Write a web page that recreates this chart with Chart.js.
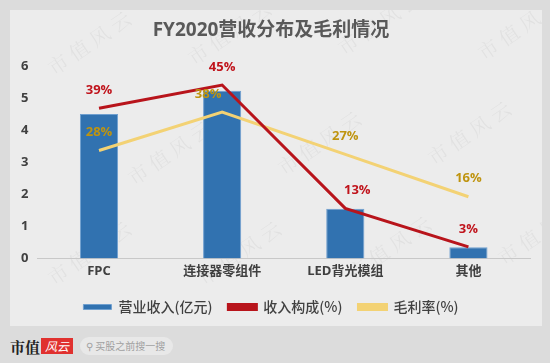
<!DOCTYPE html>
<html>
<head>
  <meta charset="utf-8">
  <title>FY2020营收分布及毛利情况</title>
  <script src="https://cdn.jsdelivr.net/npm/chart.js@4.4.1/dist/chart.umd.min.js"></script>
  <style>
    html, body { margin: 0; padding: 0; }
    body { width: 550px; height: 363px; background: #dcdcdc; position: relative; overflow: hidden;
           font-family: "Noto Sans CJK SC", "Noto Sans", sans-serif; }
    #card { position: absolute; left: 10px; top: 10px; width: 532px; height: 316px; background: #ececec; }
    #foot { position: absolute; left: 10px; top: 334px; height: 24px; display: flex; align-items: center; }
    .logo1 { font-family: "Noto Serif CJK SC", "Noto Sans CJK SC", serif; font-weight: bold; font-size: 15px; color: #222; }
    .logo2 { background: #e0312f; color: #fff; font-size: 12px; font-style: italic; padding: 0 4px; height: 16px; line-height: 16px; margin-left: 1px; }
    .search { margin-left: 7px; background: #e8e8e8; border-radius: 10px; height: 18px; line-height: 18px; padding: 0 8px 0 6px; font-size: 10px; color: #a0a0a0; }
  </style>
</head>
<body>
  <div id="card"><canvas id="myChart" width="532" height="316"></canvas></div>
  <div id="foot">
    <span class="logo1">市值</span><span class="logo2">风云</span>
    <span class="search">&#9906; 买股之前搜一搜</span>
  </div>

  <script>
    var categories = ['FPC', '连接器零组件', 'LED背光模组', '其他'];
    var revenue = [4.5, 5.22, 1.55, 0.35];      // 营业收入(亿元)
    var revenueShare = [39, 45, 13, 3];         // 收入构成(%)
    var grossMargin = [28, 38, 27, 16];         // 毛利率(%)
    var yTicks = [0, 1, 2, 3, 4, 5, 6];

    // 数据标签（折线点上方的百分比）
    var labelPlugin = {
      id: 'pctLabels',
      afterDatasetsDraw: function(chart) {
        var ctx = chart.ctx;
        ctx.save();
        ctx.font = 'bold 13px "Open Sans", "Noto Sans CJK SC", sans-serif';
        ctx.textAlign = 'center';
        ctx.textBaseline = 'middle';
        chart.data.datasets.forEach(function(ds, i) {
          if (!ds.labelColor) return;
          var meta = chart.getDatasetMeta(i);
          meta.data.forEach(function(pt, j) {
            var dx = ds.labelDx ? ds.labelDx[j] : 0;
            ctx.fillStyle = ds.labelColor;
            ctx.fillText(ds.data[j] + '%', pt.x + dx, pt.y - 18);
          });
        });
        ctx.restore();
      }
    };

    // 水印
    var watermark = {
      id: 'watermark',
      beforeDraw: function(chart) {
        var ctx = chart.ctx;
        var spots = [[40, 60], [180, 50], [330, 40], [470, 45], [120, 170], [270, 160], [420, 150], [40, 270], [190, 270], [340, 265], [490, 250]];
        ctx.save();
        ctx.fillStyle = 'rgba(0,0,0,0.045)';
        ctx.font = '20px "Noto Serif CJK SC", "Noto Sans CJK SC", serif';
        spots.forEach(function(s) {
          ctx.save();
          ctx.translate(s[0], s[1]);
          ctx.rotate(-0.6);
          ctx.fillText('市 值 风 云', 0, 0);
          ctx.restore();
        });
        ctx.restore();
      }
    };

    var ctx = document.getElementById('myChart').getContext('2d');
    var chart = new Chart(ctx, {
      data: {
        labels: categories,
        datasets: [{
          type: 'bar',
          label: '营业收入(亿元)',
          data: revenue,
          yAxisID: 'y',
          backgroundColor: '#3172b0',
          borderColor: '#6f9fcf',
          borderWidth: 1,
          barPercentage: 0.62,
          categoryPercentage: 0.5,
          order: 3
        }, {
          type: 'line',
          label: '收入构成(%)',
          data: revenueShare,
          yAxisID: 'y2',
          borderColor: '#b8141b',
          backgroundColor: '#b8141b',
          borderWidth: 3,
          pointRadius: 0,
          tension: 0,
          labelColor: '#c0141c',
          labelDx: [0, 0, 12, 0],
          order: 1
        }, {
          type: 'line',
          label: '毛利率(%)',
          data: grossMargin,
          yAxisID: 'y2',
          borderColor: '#f3d274',
          backgroundColor: '#f3d274',
          borderWidth: 3,
          pointRadius: 0,
          tension: 0,
          labelColor: '#bf9410',
          labelDx: [0, -14, 0, 0],
          order: 2
        }]
      },
      options: {
        responsive: false,
        animation: false,
        layout: { padding: { left: 2, right: 12, top: 0, bottom: 2 } },
        plugins: {
          title: {
            display: true,
            text: 'FY2020营收分布及毛利情况',
            color: '#595959',
            font: { size: 19, weight: 'bold', family: '"Open Sans", "Noto Sans CJK SC", sans-serif' },
            padding: { top: 9, bottom: 24 }
          },
          legend: {
            position: 'bottom',
            labels: {
              color: '#404040',
              boxWidth: 28,
              boxHeight: 5,
              padding: 16,
              font: { size: 14, weight: '500', family: '"Noto Sans CJK SC", sans-serif' },
              sort: function(a, b) { return a.datasetIndex - b.datasetIndex; }
            }
          },
          tooltip: { enabled: false }
        },
        scales: {
          x: {
            grid: { display: false, drawTicks: false },
            border: { color: '#c8c8c8' },
            ticks: { color: '#404040', padding: 5, font: { size: 13, weight: 'bold', family: '"Open Sans", "Noto Sans CJK SC", sans-serif' } }
          },
          y: {
            min: 0,
            max: 6,
            afterBuildTicks: function(axis) { axis.ticks = yTicks.map(function(v) { return { value: v }; }); },
            grid: { display: false, drawTicks: false },
            border: { display: false },
            ticks: { color: '#404040', padding: 9, font: { size: 13, weight: 'bold', family: '"Open Sans", sans-serif' } }
          },
          y2: {
            min: 0,
            max: 50,
            display: false
          }
        }
      },
      plugins: [watermark, labelPlugin]
    });
  </script>
</body>
</html>
